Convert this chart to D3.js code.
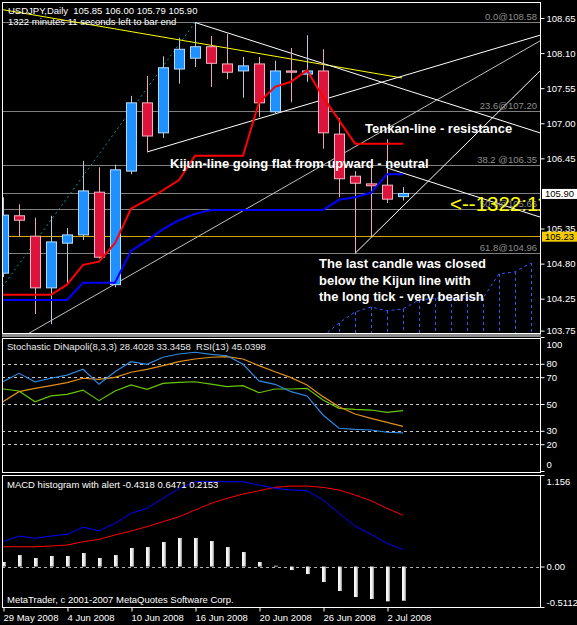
<!DOCTYPE html>
<html lang="en">
<head>
<meta charset="UTF-8">
<title>USDJPY Daily</title>
<script src="https://d3js.org/d3.v7.min.js"></script>
<style>
    body { margin: 0; background: #000; }
    svg { display: block; font-family: 'Liberation Sans', Arial, sans-serif; }
    .small { font-size: 9.5px; fill: #fff; white-space: pre; }
    .note { font-size: 13px; font-weight: bold; fill: #fff; }
</style>
</head>
<body>
<svg id="chart" width="577" height="625"></svg>
<script>
// bars, 29 May 2008 .. 3 Jul 2008
const dates = ["2008-05-29","2008-05-30","2008-06-02","2008-06-03","2008-06-04","2008-06-05","2008-06-06",
    "2008-06-09","2008-06-10","2008-06-11","2008-06-12","2008-06-13","2008-06-16","2008-06-17","2008-06-18",
    "2008-06-19","2008-06-20","2008-06-23","2008-06-24","2008-06-25","2008-06-26","2008-06-27","2008-06-30",
    "2008-07-01","2008-07-02","2008-07-03"];
const open  = [104.65,105.55,105.23,104.42,105.12,105.25,105.92,104.47,106.25,107.32,106.85,107.85,108.02,
    108.20,107.93,107.82,107.93,107.18,107.82,107.77,107.82,106.83,106.17,106.05,106.03,105.85];
const high  = [105.84,105.73,105.52,105.55,105.36,106.41,106.31,106.35,107.43,107.74,108.05,108.34,108.58,
    108.37,108.40,108.04,108.04,107.98,108.18,108.38,108.16,107.08,106.25,106.30,106.75,106.00];
const low   = [104.59,105.22,104.01,103.85,104.50,105.17,104.88,104.43,106.20,106.55,106.77,107.62,107.88,
    107.57,107.69,107.40,107.10,107.15,107.33,107.65,106.60,105.84,104.96,105.22,105.75,105.79];
const close = [105.56,105.48,104.42,105.14,105.25,105.94,104.90,106.27,107.32,106.80,107.87,108.16,108.20,
    107.94,107.80,107.90,107.32,107.82,107.80,107.82,106.85,106.13,106.06,106.02,105.81,105.90];

// ichimoku
const tenkan = [104.31,104.31,104.31,104.31,104.47,104.78,104.83,105.12,105.66,105.80,105.95,106.11,106.49,
    106.49,106.49,106.49,107.33,107.57,107.65,107.83,107.41,107.05,106.68,106.68,106.68,106.68];
const kijun  = [104.23,104.23,104.23,104.23,104.23,104.50,104.50,104.50,105.00,105.16,105.34,105.48,105.58,
    105.64,105.64,105.64,105.64,105.64,105.64,105.64,105.64,105.80,105.84,105.91,106.20,106.20];
const senkouStart = 20;
const senkou = [103.66,103.87,104.04,104.12,104.06,104.09,104.23,104.26,104.26,104.26,104.26,104.64,104.67,104.81];

// fibo retracement
const fibLabels = ["0.0@108.58","23.6@107.20","38.2 @106.35","50.0@105.66","61.8@104.96"];
const fibPrices = [108.58,107.20,106.35,105.66,104.96];
const fibAnchor = [-5, 102.73, 12, 108.58];

// drawn lines: [bar1, price1, bar2, price2]
const yellowLine = [0, 108.78, 24.94, 107.71];
const whiteLines = [
    [12, 108.58, 33.56, 106.85],
    [9, 106.55, 33.56, 108.38],
    [22, 104.96, 33.56, 107.82],
    [24, 106.30, 33.56, 105.53]
];
const silverLine = [1.56, 103.70, 33.56, 108.29];
const hLinePrice = 105.23;
const bidPrice = 105.90;

// oscillators
const stochMain   = [66.6,72.9,66.6,69.2,71.6,75.9,64.7,74.1,81.6,79.6,84.9,87.3,88.6,87.1,86.0,79.6,67.2,64.7,
    59.2,56.0,41.8,31.9,31.1,30.6,28.9,28.4028];
const stochSignal = [51.7,59.2,61.7,63.7,65.9,69.2,68.4,69.9,73.7,75.9,78.6,81.6,83.6,84.9,85.3,83.6,78.6,74.1,
    69.7,64.2,55.5,48.0,42.5,39.3,36.3,33.3458];
const rsi         = [61.2,59.7,51.7,56.0,57.2,60.4,52.5,59.7,64.2,61.0,65.4,66.2,66.6,64.9,62.9,63.7,58.4,61.2,
    61.2,61.7,53.0,46.8,46.0,45.5,43.8,45.0398];
const macdHist   = [0.057,0.145,0.107,0.133,0.133,0.170,0.107,0.145,0.234,0.246,0.309,0.360,0.360,0.322,0.246,
    0.183,0.057,0.010,-0.044,-0.095,-0.196,-0.309,-0.385,-0.410,-0.440,-0.4318];
const macdMain   = [0.313,0.385,0.356,0.385,0.407,0.495,0.452,0.545,0.672,0.735,0.861,0.987,1.071,1.071,1.071,
    1.071,1.029,0.987,0.966,0.957,0.840,0.672,0.511,0.407,0.293,0.2153];
const macdSignal = [0.25,0.25,0.25,0.259,0.271,0.313,0.343,0.398,0.448,0.503,0.566,0.629,0.713,0.798,0.861,
    0.915,0.957,1.0,1.016,1.016,1.0,0.966,0.903,0.831,0.735,0.6471];

// axis ticks
const priceTicks = [108.65,108.10,107.55,107.00,106.45,105.35,104.80,104.25,103.75];
const stochTicks = [100,80,70,50,30,20,0];
const stochLevels = [80,70,50,30,20];
const macdTicks = [1.156,0,-0.5112];
const dateTicks = [0,4,8,12,16,20,24];

const svg = d3.select("#chart");
const W = +svg.attr("width"), H = +svg.attr("height");
svg.append("rect").attr("width", W).attr("height", H).attr("fill", "#000");

const L = 2, R = 540;
const mainP = {top: 2, bottom: 333};
const stochP = {top: 338, bottom: 472};
const macdP = {top: 475, bottom: 607};

const x = d3.scaleLinear().domain([0, 25]).range([3, 403]);
const y = d3.scaleLinear().domain([103.75, 108.65]).range([330.6, 18]);
const yS = d3.scaleLinear().domain([0, 100]).range([471, 337]);
const yM = d3.scaleLinear().domain([-0.5112, 1.156]).range([607, 475]);

const defs = svg.append("defs");
function clip(id, p) {
    defs.append("clipPath").attr("id", id).append("rect")
        .attr("x", L + 1).attr("y", p.top + 1).attr("width", R - L - 1).attr("height", p.bottom - p.top - 1);
}
clip("cMain", mainP); clip("cStoch", stochP); clip("cMacd", macdP);

const grad = defs.append("linearGradient").attr("id", "histGrad");
grad.append("stop").attr("offset", "0%").attr("stop-color", "#ffffff");
grad.append("stop").attr("offset", "55%").attr("stop-color", "#ececec");
grad.append("stop").attr("offset", "100%").attr("stop-color", "#8a8a8a");

// ---------- main pane ----------
const main = svg.append("g").attr("clip-path", "url(#cMain)");

// fibo + horizontal lines
main.selectAll(".fib").data(fibPrices).join("line")
    .attr("x1", L).attr("x2", R).attr("y1", d => Math.round(y(d)) + 0.5).attr("y2", d => Math.round(y(d)) + 0.5)
    .attr("stroke", "#808080");
main.append("line").attr("x1", L).attr("x2", R)
    .attr("y1", Math.round(y(bidPrice)) + 0.5).attr("y2", Math.round(y(bidPrice)) + 0.5).attr("stroke", "#808080");
main.append("line").attr("x1", L).attr("x2", R)
    .attr("y1", Math.round(y(hLinePrice)) + 0.5).attr("y2", Math.round(y(hLinePrice)) + 0.5).attr("stroke", "#d4a800");

// kumo (dotted)
const kumoLine = d3.line().x((d, k) => x(senkouStart + k)).y(d => y(d));
main.append("path").datum(senkou).attr("d", kumoLine)
    .attr("fill", "none").attr("stroke", "#2c5cff").attr("stroke-dasharray", "3,3");
main.selectAll(".kumo").data(senkou.slice(1)).join("line")
    .attr("x1", (d, k) => x(senkouStart + 1 + k) + 0.5).attr("x2", (d, k) => x(senkouStart + 1 + k) + 0.5)
    .attr("y1", d => y(d)).attr("y2", mainP.bottom)
    .attr("stroke", "#2c5cff").attr("stroke-dasharray", "3,3");

// trend lines
function seg(g, d, color, dash) {
    return g.append("line").attr("x1", x(d[0])).attr("y1", y(d[1])).attr("x2", x(d[2])).attr("y2", y(d[3]))
        .attr("stroke", color).attr("stroke-dasharray", dash || null);
}
seg(main, fibAnchor, "#009a9a", "2,3");
seg(main, yellowLine, "#ffff00");
seg(main, silverLine, "#c0c0c0");
whiteLines.forEach(d => seg(main, d, "#ffffff"));

// candles
const bars = d3.range(dates.length).map(i => ({i, o: open[i], h: high[i], l: low[i], c: close[i], up: close[i] >= open[i]}));
main.selectAll(".wick").data(bars).join("line")
    .attr("x1", d => x(d.i) + 0.5).attr("x2", d => x(d.i) + 0.5)
    .attr("y1", d => y(d.h)).attr("y2", d => y(d.l))
    .attr("stroke", d => d.up ? "#b8c8d8" : "#e8a8b4");
main.selectAll(".body").data(bars).join("rect")
    .attr("x", d => x(d.i) - 4.5).attr("width", 10)
    .attr("y", d => y(Math.max(d.o, d.c)))
    .attr("height", d => Math.max(1, Math.abs(y(d.o) - y(d.c))))
    .attr("fill", d => d.up ? "#1e90ff" : "#dc143c")
    .attr("stroke", d => d.up ? "#b4dcff" : "#f4b4c4");

// tenkan / kijun
const pLine = d3.line().x((d, i) => x(i)).y(d => y(d));
main.append("path").datum(tenkan).attr("d", pLine).attr("fill", "none").attr("stroke", "#ff0000").attr("stroke-width", 2);
main.append("path").datum(kijun).attr("d", pLine).attr("fill", "none").attr("stroke", "#0000ff").attr("stroke-width", 2);

// fibo labels
main.selectAll(".fibl").data(fibPrices).join("text")
    .attr("class", "small").attr("x", 537).attr("y", d => y(d) - 2).attr("text-anchor", "end")
    .style("fill", "#8e8e8e").text((d, k) => fibLabels[k]);

// notes
main.append("text").attr("class", "note").attr("x", 170).attr("y", 168).text("Kijun-line going flat from upward - neutral");
main.append("text").attr("class", "note").attr("x", 365).attr("y", 133).text("Tenkan-line - resistance");
["The last candle was closed", "below the Kijun line with", "the long tick - very bearish"].forEach((t, k) => {
    main.append("text").attr("class", "note").attr("x", 319).attr("y", 268 + k * 16.5).text(t);
});
main.append("text").attr("x", 450).attr("y", 211).attr("font-size", 20.5).attr("fill", "#ffff00").text("<--1322:11");

// header
svg.append("text").attr("class", "small").attr("x", 8).attr("y", 13.5)
    .text(`USDJPY,Daily  ${open[25].toFixed(2)} ${high[25].toFixed(2)} ${low[25].toFixed(2)} ${close[25].toFixed(2)}`);
svg.append("text").attr("class", "small").attr("x", 8).attr("y", 24.5).text("1322 minutes 11 seconds left to bar end");

// ---------- stochastic pane ----------
const st = svg.append("g").attr("clip-path", "url(#cStoch)");
st.selectAll(".lvl").data(stochLevels).join("line")
    .attr("x1", L).attr("x2", R).attr("y1", d => Math.round(yS(d)) + 0.5).attr("y2", d => Math.round(yS(d)) + 0.5)
    .attr("stroke", "#c8c8c8").attr("stroke-dasharray", "3,3");
const sLine = d3.line().x((d, i) => x(i)).y(d => yS(d));
[[rsi, "#66c800"], [stochSignal, "#e0901c"], [stochMain, "#2f88e0"]].forEach(([s, c]) => {
    st.append("path").datum(s).attr("d", sLine).attr("fill", "none").attr("stroke", c).attr("stroke-width", 1.2);
});
svg.append("text").attr("class", "small").attr("x", 7).attr("y", 350).style("fill", "#e8e8e8")
    .text(`Stochastic DiNapoli(8,3,3) ${stochMain[25].toFixed(4)} ${stochSignal[25].toFixed(4)}  RSI(13) ${rsi[25].toFixed(4)}`);

// ---------- macd pane ----------
const mc = svg.append("g").attr("clip-path", "url(#cMacd)");
mc.append("line").attr("x1", L).attr("x2", R).attr("y1", Math.round(yM(0)) + 0.5).attr("y2", Math.round(yM(0)) + 0.5)
    .attr("stroke", "#b0b0b0").attr("stroke-dasharray", "3,3");
mc.selectAll(".hist").data(macdHist).join("rect")
    .attr("x", (d, i) => x(i) - 1).attr("width", 4)
    .attr("y", d => yM(Math.max(0, d))).attr("height", d => Math.abs(yM(d) - yM(0)))
    .attr("fill", "url(#histGrad)");
const mLine = d3.line().x((d, i) => x(i)).y(d => yM(d));
mc.append("path").datum(macdSignal).attr("d", mLine).attr("fill", "none").attr("stroke", "#ff0000");
mc.append("path").datum(macdMain).attr("d", mLine).attr("fill", "none").attr("stroke", "#0000ff");
svg.append("text").attr("class", "small").attr("x", 7).attr("y", 488)
    .text(`MACD histogram with alert ${macdHist[25].toFixed(4)} ${macdSignal[25].toFixed(4)} ${macdMain[25].toFixed(4)}`);
svg.append("text").attr("class", "small").attr("x", 7).attr("y", 603)
    .text("MetaTrader, c 2001-2007 MetaQuotes Software Corp.");

// ---------- frames ----------
const fr = svg.append("g").attr("fill", "none").attr("stroke", "#fff");
[mainP, stochP, macdP].forEach(p => {
    fr.append("rect").attr("x", L + 0.5).attr("y", p.top + 0.5).attr("width", R - L).attr("height", p.bottom - p.top);
});
svg.append("rect").attr("x", L).attr("y", mainP.bottom + 1).attr("width", R - L + 1).attr("height", 3).attr("fill", "#8c8c8c");

// ---------- axes ----------
function styleAxis(g) {
    g.select(".domain").remove();
    g.selectAll("line").attr("stroke", "#fff");
    g.selectAll("text").attr("fill", "#fff").attr("font-size", 9.5).attr("font-family", "'Liberation Sans', Arial, sans-serif");
}
svg.append("g").attr("transform", `translate(${R + 0.5},0)`)
    .call(d3.axisRight(y).tickValues(priceTicks).tickSize(4).tickPadding(2).tickFormat(d3.format(".2f")))
    .call(styleAxis);

const sAx = svg.append("g").attr("transform", `translate(${R + 0.5},0)`)
    .call(d3.axisRight(yS).tickValues(stochTicks).tickSize(4).tickPadding(2))
    .call(styleAxis);
sAx.selectAll(".tick text").attr("y", d => d === 100 ? 7 : d === 0 ? -7 : 0);

const mAx = svg.append("g").attr("transform", `translate(${R + 0.5},0)`)
    .call(d3.axisRight(yM).tickValues(macdTicks).tickSize(4).tickPadding(2)
        .tickFormat(d => d === 0 ? "0.00" : String(d)))
    .call(styleAxis);
mAx.selectAll(".tick text").attr("y", d => d > 1 ? 6 : d < 0 ? -5 : 0);

// price tags
function tag(price, bg) {
    const g = svg.append("g").attr("transform", `translate(${R + 1},${y(price)})`);
    g.append("rect").attr("x", 1).attr("y", -4.5).attr("width", 40).attr("height", 10).attr("fill", bg);
    g.append("text").attr("x", 4).attr("dy", "0.35em").attr("font-size", 9.5).attr("fill", "#000").text(price.toFixed(2));
}
tag(bidPrice, "#ffffff");
tag(hLinePrice, "#f2cc00");

const parse = d3.timeParse("%Y-%m-%d"), fmt = d3.timeFormat("%-d %b %Y");
const dAx = svg.append("g").attr("transform", `translate(0,${macdP.bottom + 0.5})`)
    .call(d3.axisBottom(x).tickValues(dateTicks).tickSize(4).tickPadding(3).tickFormat(i => fmt(parse(dates[i]))))
    .call(styleAxis);
dAx.selectAll(".tick line").attr("transform", "translate(0.5,0)");
dAx.selectAll(".tick text").attr("text-anchor", "start").attr("x", 0);
</script>
</body>
</html>
